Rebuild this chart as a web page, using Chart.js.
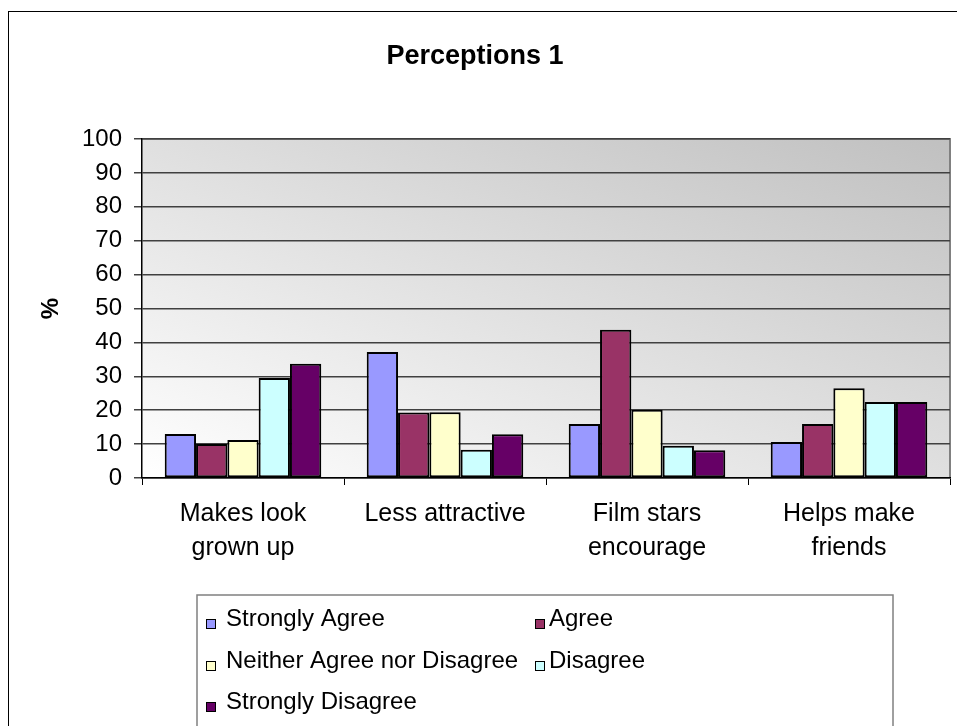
<!DOCTYPE html>
<html>
<head>
<meta charset="utf-8">
<title>Perceptions 1</title>
<script src="https://cdn.jsdelivr.net/npm/chart.js@4/dist/chart.umd.min.js"></script>
<style>
  html, body { margin: 0; padding: 0; background: #ffffff; }
  #wrap { width: 957px; height: 726px; }
</style>
</head>
<body>
<div id="wrap"><canvas id="chart" width="957" height="726"></canvas></div>
<script>
// Survey statements (x-axis categories), split over two lines where needed
const categories = [
  ['Makes look', 'grown up'],
  'Less attractive',
  ['Film stars', 'encourage'],
  ['Helps make', 'friends']
];

// Response levels (one bar series each)
const seriesNames = [
  'Strongly Agree',
  'Agree',
  'Neither Agree nor Disagree',
  'Disagree',
  'Strongly Disagree'
];

// Percentage of respondents per statement
const stronglyAgree    = [13.0, 37.2, 15.9, 10.6];
const agree            = [10.0, 19.3, 43.7, 15.9];
const neither          = [11.2, 19.4, 20.1, 26.5];
const disagree         = [29.5,  8.3,  9.5, 22.4];
const stronglyDisagree = [33.7, 12.9,  8.2, 22.4];

// Value axis
const yMin = 0;
const yMax = 100;
const yStep = 10;

const seriesValues = [stronglyAgree, agree, neither, disagree, stronglyDisagree];
const seriesColors = ['#9999FF', '#993366', '#FFFFCC', '#CCFFFF', '#660066'];

const FONT = "'Liberation Sans', Arial, Helvetica, sans-serif";
Chart.defaults.font.family = FONT;
Chart.defaults.color = '#000000';

// Page frame, shaded plot background and the two-column legend
const decorPlugin = {
  id: 'decor',
  beforeDraw(chart) {
    const ctx = chart.ctx;
    const a = chart.chartArea;
    ctx.save();
    ctx.fillStyle = '#ffffff';
    ctx.fillRect(0, 0, chart.width, chart.height);

    // outer frame (continues past the right and bottom edges)
    ctx.strokeStyle = '#000000';
    ctx.lineWidth = 1;
    ctx.strokeRect(8.5, 11.5, chart.width + 20, chart.height + 20);

    // plot area: white at bottom-left fading to grey at top-right
    const W = a.right - a.left, H = a.bottom - a.top;
    const k = (2 * W * H) / (W * W + H * H);
    const g = ctx.createLinearGradient(a.left, a.bottom, a.left + H * k, a.bottom - W * k);
    g.addColorStop(0, '#ffffff');
    g.addColorStop(1, '#c0c0c0');
    ctx.fillStyle = g;
    ctx.fillRect(a.left, a.top, W, H);

    // grey border on the top and right of the plot area
    ctx.strokeStyle = '#808080';
    ctx.lineWidth = 2;
    ctx.beginPath();
    ctx.moveTo(a.left, a.top);
    ctx.lineTo(a.right, a.top);
    ctx.lineTo(a.right, a.bottom);
    ctx.stroke();
    ctx.restore();
  },
  afterDraw(chart) {
    const ctx = chart.ctx;
    ctx.save();
    // legend box
    ctx.strokeStyle = '#808080';
    ctx.lineWidth = 1.5;
    ctx.strokeRect(197, 595, 696, 200);

    const colText = [226, 549];
    const colBox = [206, 535];
    const rowBase = [626, 668, 709];
    ctx.font = '24px ' + FONT;
    ctx.textBaseline = 'alphabetic';
    ctx.textAlign = 'left';
    chart.data.datasets.forEach((ds, i) => {
      const col = i % 2;
      const row = Math.floor(i / 2);
      const yb = rowBase[row];
      ctx.fillStyle = ds.backgroundColor;
      ctx.fillRect(colBox[col], yb - 7, 10, 10);
      ctx.strokeStyle = '#000000';
      ctx.lineWidth = 1;
      ctx.strokeRect(colBox[col] + 0.5, yb - 6.5, 9, 9);
      ctx.fillStyle = '#000000';
      ctx.fillText(ds.label, colText[col], yb);
    });
    ctx.restore();
  }
};

const datasets = seriesNames.map((name, i) => ({
  label: name,
  data: seriesValues[i],
  backgroundColor: seriesColors[i],
  borderColor: '#000000',
  borderWidth: 2,
  borderSkipped: false,
  categoryPercentage: 0.775,
  barPercentage: 1.0
}));

new Chart(document.getElementById('chart'), {
  type: 'bar',
  data: { labels: categories, datasets },
  plugins: [decorPlugin],
  options: {
    responsive: false,
    animation: false,
    layout: { padding: { left: 0, top: 0, right: 7, bottom: 0 } },
    plugins: {
      legend: { display: false },
      tooltip: { enabled: false },
      title: {
        display: true,
        text: 'Perceptions 1',
        color: '#000000',
        font: { size: 27, weight: 'bold', family: FONT, lineHeight: 1.2 },
        padding: { top: 40, bottom: 66.6 }
      }
    },
    scales: {
      x: {
        offset: true,
        grid: {
          display: true,
          offset: true,
          drawOnChartArea: false,
          drawTicks: true,
          tickLength: 7,
          color: '#000000',
          lineWidth: 1
        },
        border: { display: true, color: '#000000', width: 1.5 },
        ticks: {
          color: '#000000',
          padding: 12,
          maxRotation: 0,
          autoSkip: false,
          font: { size: 25, family: FONT, lineHeight: 1.36 }
        },
        afterFit(scale) { scale.height = 248; }
      },
      y: {
        min: yMin,
        max: yMax,
        ticks: {
          stepSize: yStep,
          color: '#000000',
          padding: 12,
          font: { size: 24, family: FONT }
        },
        grid: {
          color: '#404040',
          lineWidth: 1.5,
          drawTicks: true,
          tickLength: 8
        },
        border: { display: true, color: '#000000', width: 1.5 },
        title: {
          display: true,
          text: '%',
          color: '#000000',
          font: { size: 24, weight: 'bold', family: FONT, lineHeight: 1.2 },
          padding: { top: 37, bottom: 0 }
        },
        afterFit(scale) { scale.width = 142; }
      }
    }
  }
});
</script>
</body>
</html>
